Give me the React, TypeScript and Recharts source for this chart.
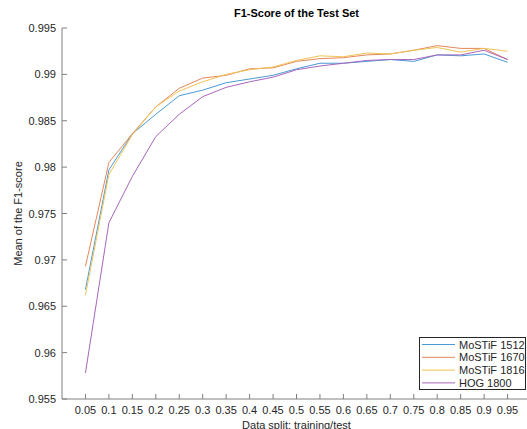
import React from 'react';
import { LineChart, Line, XAxis, YAxis, Legend } from 'recharts';

const splits = [0.05, 0.1, 0.15, 0.2, 0.25, 0.3, 0.35, 0.4, 0.45, 0.5, 0.55, 0.6, 0.65, 0.7, 0.75, 0.8, 0.85, 0.9, 0.95];
const mostif1512 = [0.9668, 0.9797, 0.9836, 0.9857, 0.9877, 0.9883, 0.9891, 0.9895, 0.9899, 0.9906, 0.9912, 0.9912, 0.9914, 0.9916, 0.9914, 0.9921, 0.9920, 0.9922, 0.9913];
const mostif1670 = [0.9693, 0.9805, 0.9836, 0.9865, 0.9885, 0.9896, 0.9899, 0.9906, 0.9907, 0.9914, 0.9917, 0.9918, 0.9921, 0.9922, 0.9926, 0.9931, 0.9928, 0.9928, 0.9916];
const mostif1816 = [0.9662, 0.9792, 0.9835, 0.9865, 0.9882, 0.9892, 0.9900, 0.9905, 0.9908, 0.9915, 0.9920, 0.9919, 0.9923, 0.9922, 0.9926, 0.9929, 0.9924, 0.9928, 0.9925];
const hog1800 = [0.9578, 0.9740, 0.9790, 0.9833, 0.9857, 0.9876, 0.9886, 0.9892, 0.9897, 0.9905, 0.9909, 0.9912, 0.9915, 0.9916, 0.9916, 0.9921, 0.9921, 0.9926, 0.9916];

const xTicks = [0.05, 0.1, 0.15, 0.2, 0.25, 0.3, 0.35, 0.4, 0.45, 0.5, 0.55, 0.6, 0.65, 0.7, 0.75, 0.8, 0.85, 0.9, 0.95, 1];
const yTicks = [0.955, 0.96, 0.965, 0.97, 0.975, 0.98, 0.985, 0.99, 0.995];

const seriesNames = ['MoSTiF 1512', 'MoSTiF 1670', 'MoSTiF 1816', 'HOG 1800'];
const seriesColors = ['#4a9ad6', '#e5875a', '#f0c456', '#a866bb'];
const seriesValues = [mostif1512, mostif1670, mostif1816, hog1800];

const data = splits.map((x, i) => {
  const row: any = { x };
  seriesNames.forEach((n, k) => { row[n] = seriesValues[k][i]; });
  return row;
});

const FONT = '"Liberation Sans", Arial, Helvetica, sans-serif';
const AXIS = '#808080';
const TEXT = '#262626';

const fmtX = (v: number) => String(parseFloat(v.toFixed(2)));
const fmtY = (v: number) => String(parseFloat(v.toFixed(3)));

const BottomTick = (p: any) => (
  <g>
    <line x1={p.x} x2={p.x} y1={p.y} y2={p.y - 5} stroke={AXIS} />
    <text x={p.x} y={p.y + 15} textAnchor="middle" fontSize={11} fill={TEXT} fontFamily={FONT}>{fmtX(p.payload.value)}</text>
  </g>
);
const TopTick = (p: any) => (
  <line x1={p.x} x2={p.x} y1={p.y} y2={p.y + 5} stroke={AXIS} />
);
const LeftTick = (p: any) => (
  <g>
    <line x1={p.x} x2={p.x + 5} y1={p.y} y2={p.y} stroke={AXIS} />
    <text x={p.x - 6} y={p.y + 4} textAnchor="end" fontSize={11} fill={TEXT} fontFamily={FONT}>{fmtY(p.payload.value)}</text>
  </g>
);
const RightTick = (p: any) => (
  <line x1={p.x} x2={p.x - 5} y1={p.y} y2={p.y} stroke={AXIS} />
);

const LegendBox = () => (
  <svg width={107} height={53} style={{ display: 'block' }}>
    <rect x={0.5} y={0.5} width={106} height={52} fill="#fff" stroke="#262626" strokeWidth={1} />
    {seriesNames.map((n, i) => (
      <g key={n}>
        <line x1={3} x2={36} y1={7.5 + i * 12.8} y2={7.5 + i * 12.8} stroke={seriesColors[i]} strokeWidth={1} />
        <text x={40} y={11.5 + i * 12.8} fontSize={11} fill={TEXT} fontFamily={FONT}>{n}</text>
      </g>
    ))}
  </svg>
);

export default function App() {
  return (
    <div style={{ position: 'fixed', left: 0, top: 0, width: 527, height: 429, overflow: 'hidden', background: '#fff' }}>
      <div style={{ position: 'absolute', left: 0, top: 6, width: 593, textAlign: 'center', fontFamily: FONT, fontSize: 11, fontWeight: 'bold', color: '#000', lineHeight: '14px' }}>
        F1-Score of the Test Set
      </div>
      <LineChart width={540} height={429} data={data} margin={{ top: 28, right: 9, bottom: 0, left: 0 }}>
        <XAxis
          dataKey="x"
          type="number"
          domain={[0, 1]}
          ticks={xTicks}
          allowDataOverflow
          height={30}
          tickSize={0}
          tickMargin={0}
          stroke={AXIS}
          tick={BottomTick}
          interval={0}
          label={{ value: 'Data split: training/test', position: 'insideBottom', offset: 0, fill: TEXT, fontSize: 11, fontFamily: FONT }}
        />
        <XAxis
          xAxisId="top"
          orientation="top"
          dataKey="x"
          type="number"
          domain={[0, 1]}
          ticks={xTicks}
          allowDataOverflow
          height={0}
          tickSize={0}
          tickMargin={0}
          stroke={AXIS}
          tick={TopTick}
          interval={0}
        />
        <YAxis
          type="number"
          domain={[0.955, 0.995]}
          ticks={yTicks}
          allowDataOverflow
          width={62}
          tickSize={0}
          tickMargin={0}
          stroke={AXIS}
          tick={LeftTick}
          interval={0}
          label={({ viewBox }: any) => {
            const cx = 22;
            const cy = viewBox.y + viewBox.height / 2;
            return (
              <text x={cx} y={cy} transform={`rotate(-90 ${cx} ${cy})`} textAnchor="middle" fontSize={11} fill={TEXT} fontFamily={FONT}>
                Mean of the F1-score
              </text>
            );
          }}
        />
        <YAxis
          yAxisId="right"
          orientation="right"
          type="number"
          domain={[0.955, 0.995]}
          ticks={yTicks}
          allowDataOverflow
          width={0}
          tickSize={0}
          tickMargin={0}
          stroke={AXIS}
          tick={RightTick}
          interval={0}
        />
        {seriesNames.map((n, k) => (
          <Line key={n} dataKey={n} name={n} stroke={seriesColors[k]} strokeWidth={1} dot={false} isAnimationActive={false} type="linear" />
        ))}
        <Legend
          layout="vertical"
          align="center"
          verticalAlign="middle"
          content={LegendBox}
          wrapperStyle={{ left: 419, top: 337, width: 107, height: 53 }}
        />
      </LineChart>
    </div>
  );
}
